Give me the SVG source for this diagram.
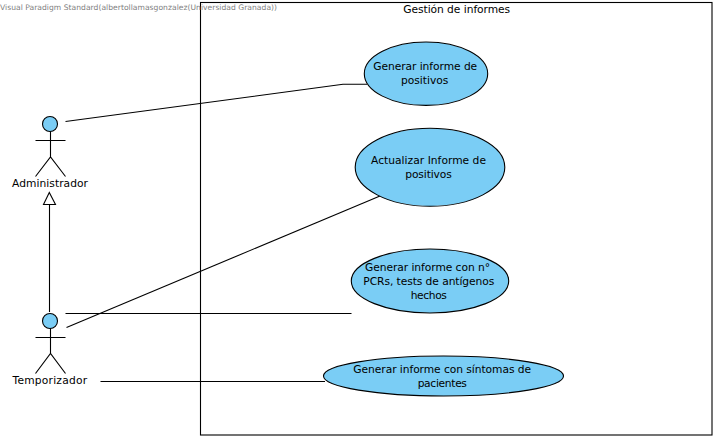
<svg xmlns="http://www.w3.org/2000/svg" width="719" height="440" viewBox="0 0 719 440">
<style>
text{font-family:"DejaVu Sans","Liberation Sans",sans-serif;font-size:10.7px;fill:#000;text-anchor:middle}
.uc{fill:#7acdf5;stroke:#000;stroke-width:1.1}
.ln{fill:none;stroke:#000;stroke-width:1.1}
.head{fill:#7acdf5;stroke:#000;stroke-width:1.1}
.wm{font-size:7.600px;fill:#808080;text-anchor:start}
</style>
<rect width="719" height="440" fill="#fff"/>
<g id="system">
<rect x="200.500" y="2.500" width="511.500" height="432.500" class="ln"/>
<text x="456.700" y="13" textLength="107">Gestión de informes</text>
</g>
<text class="wm" x="0" y="10" textLength="277">Visual Paradigm Standard(albertollamasgonzalez(Universidad Granada))</text>
<g id="connectors">
<polyline class="ln" points="65.500,121.500 343,84.300 367,84.300"/>
<line class="ln" x1="66.500" y1="327.500" x2="380" y2="196"/>
<line class="ln" x1="65.500" y1="313.500" x2="351.500" y2="313.500"/>
<line class="ln" x1="100.500" y1="381.500" x2="325" y2="381.500"/>
<line class="ln" x1="49.500" y1="312" x2="49.500" y2="204.500"/>
<polygon class="ln" points="49.300,192.500 43.500,204.500 55.500,204.500"/>
</g>
<g id="actor-administrador">
<circle class="head" cx="50" cy="124" r="7.500"/>
<path class="ln" d="M50.500 131.500V157M35.500 140.500H65.500M35.500 176.500L50.500 157L65.500 176.500"/>
<text x="50" y="187" textLength="76">Administrador</text>
</g>
<g id="actor-temporizador">
<circle class="head" cx="50" cy="321" r="7.500"/>
<path class="ln" d="M50.500 328.500V353.500M35.500 337.500H65.500M35.500 373.500L50.500 353.500L65.500 373.500"/>
<text x="49.800" y="384" textLength="74.500">Temporizador</text>
</g>
<g id="uc-generar-positivos">
<ellipse class="uc" cx="426" cy="73.700" rx="61.700" ry="31.700"/>
<text x="425.200" y="70" textLength="104">Generar informe de</text>
<text x="424.700" y="83.500" textLength="47.500">positivos</text>
</g>
<g id="uc-actualizar">
<ellipse class="uc" cx="430" cy="167.300" rx="74.800" ry="39"/>
<text x="428.500" y="164" textLength="115">Actualizar Informe de</text>
<text x="428.500" y="178" textLength="46.500">positivos</text>
</g>
<g id="uc-generar-pcr">
<ellipse class="uc" cx="430" cy="281" rx="78.700" ry="32"/>
<text x="427.500" y="271" textLength="125">Generar informe con n°</text>
<text x="428.800" y="285" textLength="131">PCRs, tests de antígenos</text>
<text x="428.800" y="299" textLength="36.300">hechos</text>
</g>
<g id="uc-generar-sintomas">
<ellipse class="uc" cx="443.500" cy="376" rx="120" ry="20"/>
<text x="442.200" y="373" textLength="177.700">Generar informe con síntomas de</text>
<text x="442.300" y="387" textLength="49.300">pacientes</text>
</g>
</svg>
